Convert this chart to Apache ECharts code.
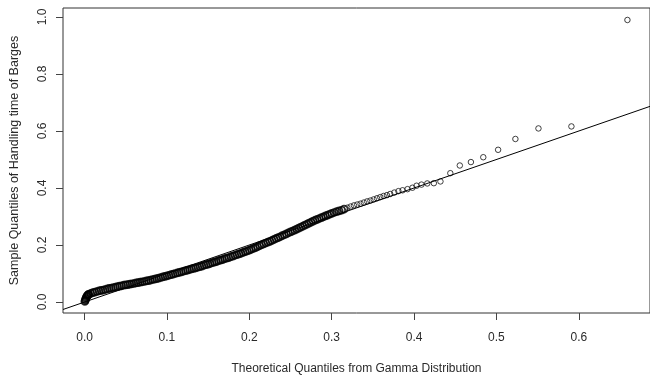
<!DOCTYPE html>
<html>
<head>
<meta charset="utf-8">
<script src="https://cdn.jsdelivr.net/npm/echarts@6/dist/echarts.min.js"></script>
<style>
html,body{margin:0;padding:0;background:#fff;}
#c{width:650px;height:380px;}
</style>
</head>
<body>
<div id="c"></div>
<script>
// Theoretical quantiles (x) and sample quantiles (y)
var theoretical = [
0.0003,0.0008,0.0013,0.0018,0.0024,0.003,0.0038,0.0046,
0.005,0.0075,0.010,0.0125,0.015,0.0175,0.020,0.0225,0.025,0.0275,
0.030,0.0325,0.035,0.0375,0.040,0.0425,0.045,0.0475,0.050,0.0525,
0.055,0.0575,0.060,0.0625,0.065,0.0675,0.070,0.0725,0.075,0.0775,
0.080,0.0825,0.085,0.0875,0.090,0.0925,0.095,0.0975,0.100,0.1025,
0.105,0.1075,0.110,0.1125,0.115,0.1175,0.120,0.1225,0.125,0.1275,
0.130,0.1325,0.135,0.1375,0.140,0.1425,0.145,0.1475,0.150,0.1525,
0.155,0.1575,0.160,0.1625,0.165,0.1675,0.170,0.1725,0.175,0.1775,
0.180,0.1825,0.185,0.1875,0.190,0.1925,0.195,0.1975,0.200,0.2025,
0.205,0.2075,0.210,0.2125,0.215,0.2175,0.220,0.2225,0.225,0.2275,
0.230,0.2325,0.235,0.2375,0.240,0.2425,0.245,0.2475,0.250,0.2525,
0.255,0.2575,0.260,0.2625,0.265,0.2675,0.270,0.2725,0.275,0.2775,
0.280,0.2825,0.285,0.2875,0.290,0.2925,0.295,0.2975,0.300,0.303,
0.306,0.309,0.312,0.315,
0.319,0.323,0.327,0.331,0.335,0.339,0.343,0.347,0.351,0.355,
0.359,0.363,0.367,0.371,0.376,0.381,0.386,0.392,0.398,0.403,
0.409,0.416,0.424,0.432,0.444,0.4555,0.469,0.484,0.502,0.523,
0.551,0.591,0.659
];
var sample = [
0.002,0.006,0.010,0.014,0.018,0.021,0.024,0.026,
0.027,0.030,0.033,0.035,0.037,0.039,0.041,0.042,0.044,0.046,
0.048,0.049,0.051,0.052,0.054,0.056,0.057,0.059,0.060,0.061,
0.063,0.064,0.065,0.067,0.068,0.070,0.071,0.072,0.074,0.075,
0.077,0.079,0.080,0.082,0.084,0.086,0.088,0.090,0.092,0.094,
0.096,0.098,0.100,0.102,0.104,0.106,0.108,0.110,0.112,0.114,
0.116,0.118,0.120,0.122,0.124,0.126,0.129,0.131,0.133,0.135,
0.138,0.140,0.142,0.145,0.147,0.149,0.152,0.154,0.156,0.159,
0.161,0.164,0.166,0.169,0.171,0.174,0.177,0.179,0.182,0.185,
0.188,0.191,0.194,0.198,0.201,0.204,0.207,0.210,0.213,0.216,
0.220,0.223,0.226,0.229,0.233,0.236,0.239,0.243,0.246,0.249,
0.252,0.256,0.259,0.263,0.266,0.270,0.273,0.277,0.280,0.284,
0.287,0.290,0.293,0.296,0.299,0.302,0.305,0.308,0.311,0.314,
0.317,0.320,0.322,0.326,
0.331,0.335,0.339,0.342,0.345,0.349,0.353,0.356,0.360,0.364,
0.368,0.372,0.375,0.379,0.384,0.389,0.392,0.396,0.401,0.408,
0.412,0.416,0.417,0.423,0.452,0.479,0.491,0.508,0.534,0.572,
0.609,0.616,0.9895
];
var xTicks = [0.0, 0.1, 0.2, 0.3, 0.4, 0.5, 0.6];
var yTicks = [0.0, 0.2, 0.4, 0.6, 0.8, 1.0];
var xRange = [-0.0262, 0.6864];
var yRange = [-0.0385, 1.0315];
var refLine = [-0.0262, 0.6864]; // y = x reference line endpoints (x values)
var denseLimit = 0.316;          // where the overlapping band of points ends
var xTitle = 'Theoretical Quantiles from Gamma Distribution';
var yTitle = 'Sample Quantiles of Handling time of Barges';

var pts = theoretical.map(function (x, i) { return [x, sample[i]]; });
var densePts = pts.filter(function (p) { return p[0] < denseLimit; });
var sparsePts = pts.filter(function (p) { return p[0] >= denseLimit; });
var linePts = refLine.map(function (v) { return [v, v]; });

var font = 'Liberation Sans, Arial, sans-serif';
var txt = '#2a2a2a';
var chart = echarts.init(document.getElementById('c'), null, {renderer: 'canvas'});
chart.setOption({
  animation: false,
  backgroundColor: '#fff',
  grid: {
    left: 63, top: 8, right: -3, bottom: 66,
    show: true, borderColor: '#333', borderWidth: 1, backgroundColor: 'transparent'
  },
  xAxis: {
    type: 'value', min: xRange[0], max: xRange[1], position: 'bottom',
    splitLine: {show: false},
    axisLine: {show: false, onZero: false},
    axisTick: {show: true, length: 7, inside: false, customValues: xTicks, lineStyle: {color: '#444', width: 1}},
    axisLabel: {customValues: xTicks, margin: 19, color: txt, fontFamily: font, fontSize: 12,
      formatter: function (v) { return v.toFixed(1); }},
    name: xTitle, nameLocation: 'middle', nameGap: 50,
    nameTextStyle: {color: txt, fontFamily: font, fontSize: 12}
  },
  yAxis: {
    type: 'value', min: yRange[0], max: yRange[1], position: 'left',
    splitLine: {show: false},
    axisLine: {show: false, onZero: false},
    axisTick: {show: true, length: 7, inside: false, customValues: yTicks, lineStyle: {color: '#444', width: 1}},
    axisLabel: {customValues: yTicks, rotate: 90, margin: 14, color: txt, fontFamily: font, fontSize: 12,
      formatter: function (v) { return v.toFixed(1); }},
    name: yTitle, nameLocation: 'middle', nameGap: 42, nameRotate: 90,
    nameTextStyle: {color: txt, fontFamily: font, fontSize: 12.5}
  },
  series: [
    {
      type: 'scatter', data: densePts, symbol: 'circle', symbolSize: 7,
      itemStyle: {color: 'rgba(0,0,0,0)', borderColor: '#000', borderWidth: 1.7},
      z: 2, silent: true
    },
    {
      type: 'scatter', data: sparsePts, symbol: 'circle', symbolSize: 5.5,
      itemStyle: {color: 'rgba(0,0,0,0)', borderColor: '#111', borderWidth: 1},
      z: 2, silent: true
    },
    {
      type: 'line', data: linePts, showSymbol: false, symbol: 'none',
      lineStyle: {color: '#000', width: 1}, z: 3, silent: true, clip: true
    }
  ]
});
</script>
</body>
</html>
